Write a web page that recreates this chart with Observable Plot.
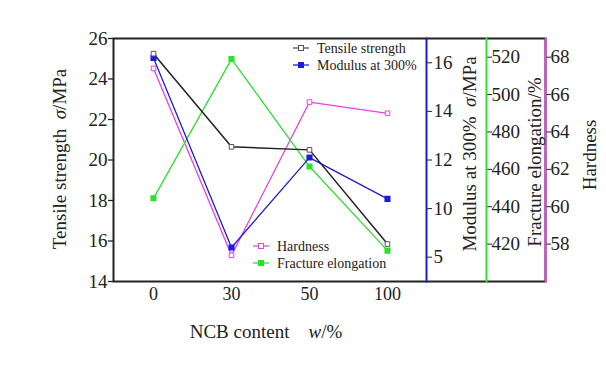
<!DOCTYPE html>
<html><head><meta charset="utf-8">
<script src="https://cdn.jsdelivr.net/npm/d3@7"></script>
<script src="https://cdn.jsdelivr.net/npm/@observablehq/plot@0.6"></script>
<style>body{margin:0;background:#fff} svg text{font-family:"Liberation Serif",serif !important}</style>
</head><body><div id="chart"></div>
<script>
// ---- data ----
const categories = ["0", "30", "50", "100"];
const tensile = [25.25, 20.65, 20.5, 15.85];
const modulus = [16.2, 8.4, 12.1, 10.4];
const elongation = [444.5, 519, 461.5, 416.5];
const hardness = [67.4, 57.4, 65.6, 65.0];

const tensileTicks = [14, 16, 18, 20, 22, 24, 26];
const modulusTicks = [8, 10, 12, 14, 16];
const modulusTickLabels = ["5", "10", "12", "14", "16"];
const elongationTicks = [420, 440, 460, 480, 500, 520];
const hardnessTicks = [58, 60, 62, 64, 66, 68];

const tensileDomain = [14, 26];
const modulusDomain = [7, 17];
const elongationDomain = [400, 530];
const hardnessDomain = [56, 69];

const seriesNames = ["Tensile strength", "Modulus at 300%", "Hardness", "Fracture elongation"];
const colors = {black: "#222", blue: "#1c1cd8", green: "#2ee02e", magenta: "#ea3fea"};

// ---- scales mapping secondary axes onto the main one ----
const toMod = d3.scaleLinear(modulusDomain, tensileDomain);
const toEl = d3.scaleLinear(elongationDomain, tensileDomain);
const toHa = d3.scaleLinear(hardnessDomain, tensileDomain);

const rows = (vals, f, name) => categories.map((c, i) => ({x: c, y: f(vals[i]), name}));
const tRows = rows(tensile, v => v, "t");
const mRows = rows(modulus, toMod, "m");
const eRows = rows(elongation, toEl, "e");
const hRows = rows(hardness, toHa, "h");

const lookup = (ticks, labels, f) => d => {
  const i = ticks.findIndex(t => Math.abs(f(t) - d) < 1e-6);
  return i < 0 ? "" : labels[i];
};

const FONT = "Liberation Serif";
const extra1 = 60, extra2 = 119;
const ax = {label: null, fontSize: 19, fontFamily: FONT, tickSize: 5};

const chart = Plot.plot({
  width: 606, height: 365,
  marginTop: 38, marginBottom: 84, marginLeft: 113, marginRight: 61,
  x: {type: "point", domain: categories, padding: 0.5, insetRight: extra2, axis: null},
  y: {domain: tensileDomain, axis: null},
  style: {fontFamily: FONT, fontSize: "17px", color: "#222", background: "#fff"},
  marks: [
    Plot.frame({stroke: colors.black, strokeWidth: 2}),
    Plot.axisX({...ax, fontSize: 18, tickSize: 0, tickPadding: 6}),
    Plot.axisY(tensileTicks, {...ax, anchor: "left", tickPadding: 1, strokeWidth: 1.3}),
    Plot.axisY(modulusTicks.map(toMod), {...ax, anchor: "right", dx: -extra2, tickPadding: 2,
      tickFormat: lookup(modulusTicks, modulusTickLabels, toMod)}),
    Plot.axisY(elongationTicks.map(toEl), {...ax, anchor: "right", dx: -(extra2 - extra1), tickPadding: 0,
      tickFormat: lookup(elongationTicks, elongationTicks.map(String), toEl)}),
    Plot.axisY(hardnessTicks.map(toHa), {...ax, anchor: "right", tickPadding: 0,
      tickFormat: lookup(hardnessTicks, hardnessTicks.map(String), toHa)}),
    Plot.frame({anchor: "right", dx: -extra2, stroke: colors.blue, strokeWidth: 2}),
    Plot.frame({anchor: "right", dx: -(extra2 - extra1), stroke: colors.green, strokeWidth: 2}),
    Plot.frame({anchor: "right", stroke: colors.magenta, strokeWidth: 2}),
    Plot.line(hRows, {x: "x", y: "y", stroke: colors.magenta, strokeWidth: 1.3}),
    Plot.line(eRows, {x: "x", y: "y", stroke: colors.green, strokeWidth: 1.3}),
    Plot.line(mRows, {x: "x", y: "y", stroke: colors.blue, strokeWidth: 1.3}),
    Plot.line(tRows, {x: "x", y: "y", stroke: colors.black, strokeWidth: 1.5}),
    Plot.dot(hRows, {x: "x", y: "y", symbol: "square", r: 2.6, stroke: colors.magenta, fill: "#fff", strokeWidth: 1}),
    Plot.dot(eRows, {x: "x", y: "y", symbol: "square", r: 2.6, fill: colors.green, stroke: colors.green}),
    Plot.dot(mRows, {x: "x", y: "y", symbol: "square", r: 2.6, fill: colors.blue, stroke: colors.blue}),
    Plot.dot(tRows, {x: "x", y: "y", symbol: "square", r: 2.6, stroke: "#555", fill: "#fff", strokeWidth: 1})
  ]
});

const svg = d3.select(chart);
// axis titles
function vtitle(x, y, parts) {
  const t = svg.append("text").attr("transform", `translate(${x},${y}) rotate(-90)`)
    .attr("text-anchor", "middle").attr("dy", "0.35em")
    .attr("font-family", FONT).attr("font-size", 19).attr("fill", "#222");
  parts.forEach(([s, it]) => t.append("tspan").text(s).attr("font-style", it ? "italic" : null));
}
vtitle(59, 159, [["Tensile strength  ", false], ["σ", true], ["/MPa", false]]);
vtitle(469, 154, [["Modulus at 300%  ", false], ["σ", true], ["/MPa", false]]);
vtitle(534, 162, [["Fracture elongation/%", false]]);
vtitle(589, 155, [["Hardness", false]]);
const xt = svg.append("text").attr("x", 266).attr("y", 338).attr("text-anchor", "middle")
  .attr("font-family", FONT).attr("font-size", 19).attr("fill", "#222").attr("xml:space", "preserve");
xt.append("tspan").text("NCB content    ");
xt.append("tspan").text("w").attr("font-style", "italic");
xt.append("tspan").text("/%");

// legends
function legend(x, y, name, color, filled) {
  const g = svg.append("g");
  g.append("line").attr("x1", x).attr("x2", x + 16).attr("y1", y).attr("y2", y).attr("stroke", color).attr("stroke-width", 1.3);
  g.append("rect").attr("x", x + 5.5).attr("y", y - 2.5).attr("width", 5).attr("height", 5)
    .attr("fill", filled ? color : "#fff").attr("stroke", color).attr("stroke-width", 1);
  g.append("text").attr("x", x + 24).attr("y", y).attr("dy", "0.35em").attr("text-anchor", "start")
    .attr("font-family", FONT).attr("font-size", 14).attr("fill", "#222").text(name);
}
legend(293, 48, seriesNames[0], "#555", false);
legend(293, 65, seriesNames[1], colors.blue, true);
legend(253, 246, seriesNames[2], colors.magenta, false);
legend(253, 263, seriesNames[3], colors.green, true);

svg.selectAll("text").style("font-family", FONT);
document.getElementById("chart").append(chart);
</script>
</body></html>
